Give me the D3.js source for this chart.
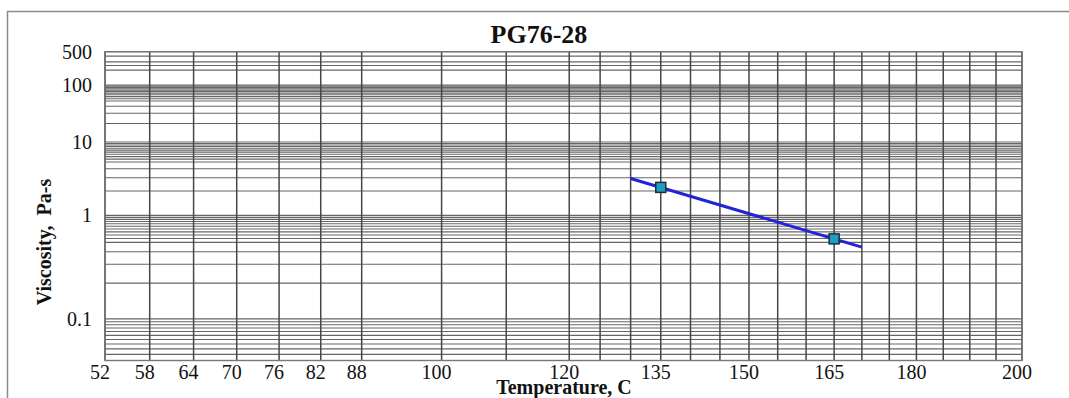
<!DOCTYPE html>
<html>
<head>
<meta charset="utf-8">
<script src="https://cdn.jsdelivr.net/npm/d3@7/dist/d3.min.js"></script>
<style>
  html, body { margin: 0; padding: 0; background: #fff; }
  svg { display: block; }
  text { font-family: "Liberation Serif", "Times New Roman", serif; fill: #111; }
</style>
</head>
<body>
<svg id="chart" width="1069" height="398"></svg>
<script>
// Binder grade and measured rotational viscosities
const title = "PG76-28";
const tempsC = [135, 165];            // test temperatures, °C
const viscPas = [2.23, 0.545];        // viscosity, Pa·s
const fitRangeC = [130, 170];         // extent of the fitted line

// Axis ticks and grid
const xTickLabels = [52, 58, 64, 70, 76, 82, 88, 100, 120, 135, 150, 165, 180, 200];
const xGridTemps = [52, 58, 64, 70, 76, 82, 88, 100, 110, 120, 125, 130, 135, 140, 145,
                    150, 155, 160, 165, 170, 175, 180, 185, 190, 195, 200];
const yTickLabels = [0.1, 1, 10, 100, 500];
const yGridVisc = [0.055, 0.06, 0.065, 0.07, 0.075, 0.08, 0.085, 0.09, 0.095,
                   0.1, 0.2, 0.3, 0.4, 0.5, 0.55, 0.6, 0.65, 0.7, 0.75, 0.8, 0.85, 0.9, 0.95,
                   1, 2, 3, 4, 5, 5.5, 6, 6.5, 7, 7.5, 8, 8.5, 9, 9.5,
                   10, 20, 30, 40, 50, 55, 60, 65, 70, 75, 80, 85, 90, 95,
                   100, 200, 250, 300, 400, 500];
const viscDomain = [0.05, 500];
const tempDomain = [52, 200];

const svg = d3.select("#chart");
const plot = { left: 105, right: 1022, top: 51.7, bottom: 360.5 };

// ASTM D2493 style axes: log of absolute temperature vs. log-log of viscosity (cP)
const toK = t => t + 273.15;
const loglog = v => Math.log10(Math.log10(v * 1000));

const xLog = d3.scaleLog().domain(tempDomain.map(toK)).range([plot.left, plot.right]);
const x = t => xLog(toK(t));
const yLin = d3.scaleLinear().domain(viscDomain.map(loglog)).range([plot.bottom, plot.top]);
const y = v => yLin(loglog(v));

// Outer chart frame
svg.append("path")
  .attr("d", "M7.5,400 V11.5 H1075")
  .attr("fill", "none").attr("stroke", "#8a8a8a").attr("stroke-width", 1.5);

// Horizontal grid
svg.append("g").selectAll("line").data(yGridVisc).join("line")
  .attr("x1", plot.left).attr("x2", plot.right)
  .attr("y1", d => y(d)).attr("y2", d => y(d))
  .attr("stroke", "#666").attr("stroke-width", 1.1);

// Vertical grid
svg.append("g").selectAll("line").data(xGridTemps).join("line")
  .attr("x1", d => x(d)).attr("x2", d => x(d))
  .attr("y1", plot.top).attr("y2", plot.bottom)
  .attr("stroke", "#474747").attr("stroke-width", 1.5);

// Plot frame
svg.append("rect")
  .attr("x", plot.left).attr("y", plot.top)
  .attr("width", plot.right - plot.left).attr("height", plot.bottom - plot.top)
  .attr("fill", "none").attr("stroke", "#777").attr("stroke-width", 1.4);

// X tick labels
svg.append("g").selectAll("text").data(xTickLabels).join("text")
  .attr("x", d => x(d) - 5).attr("y", 379)
  .attr("text-anchor", "middle").attr("font-size", 20)
  .text(d => d);

// Y tick labels
svg.append("g").selectAll("text").data(yTickLabels).join("text")
  .attr("x", 92).attr("y", d => y(d)).attr("dy", "0.35em")
  .attr("text-anchor", "end").attr("font-size", 20)
  .text(d => d);

// Titles
svg.append("text").attr("x", 539).attr("y", 43)
  .attr("text-anchor", "middle").attr("font-size", 26).attr("font-weight", "bold")
  .text(title);
svg.append("text").attr("x", 564).attr("y", 393.5)
  .attr("text-anchor", "middle").attr("font-size", 20).attr("font-weight", "bold")
  .text("Temperature, C");
svg.append("text")
  .attr("transform", "translate(51,242) rotate(-90)")
  .attr("text-anchor", "middle").attr("font-size", 20).attr("font-weight", "bold")
  .attr("xml:space", "preserve")
  .text("Viscosity,  Pa-s");

// Straight-line fit in the transformed coordinates, extended over fitRangeC
const fx = tempsC.map(t => Math.log10(toK(t)));
const fy = viscPas.map(loglog);
const slope = (fy[1] - fy[0]) / (fx[1] - fx[0]);
const fitVisc = t => {
  const ll = fy[0] + slope * (Math.log10(toK(t)) - fx[0]);
  return Math.pow(10, Math.pow(10, ll)) / 1000;
};
const fitPts = fitRangeC.map(t => [t, fitVisc(t)]);

svg.append("path")
  .datum(fitPts)
  .attr("d", d3.line().x(d => x(d[0])).y(d => y(d[1])))
  .attr("fill", "none").attr("stroke", "#2323d8").attr("stroke-width", 3);

// Measured points
const pts = tempsC.map((t, i) => [t, viscPas[i]]);
const ms = 10;
svg.append("g").selectAll("rect").data(pts).join("rect")
  .attr("x", d => x(d[0]) - ms / 2).attr("y", d => y(d[1]) - ms / 2)
  .attr("width", ms).attr("height", ms)
  .attr("fill", "#1e9ec4").attr("stroke", "#1b3030").attr("stroke-width", 1.5);
</script>
</body>
</html>
